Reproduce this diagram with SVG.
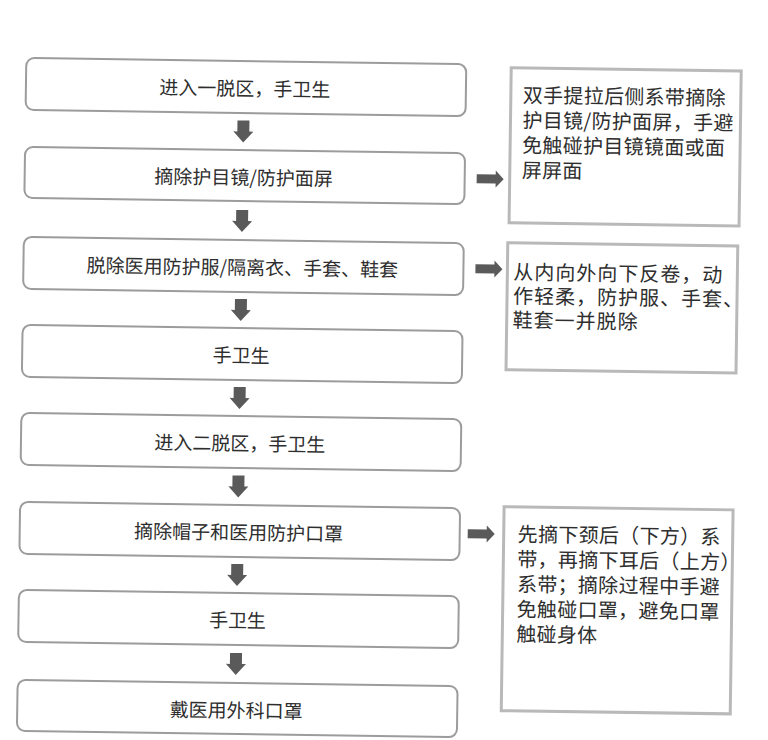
<svg xmlns="http://www.w3.org/2000/svg" width="768" height="740" viewBox="0 0 768 740">
<defs>
<style>
.box{fill:#ffffff;stroke:#9c9c9c;stroke-width:2}
.note{fill:#ffffff;stroke:#b9b9b9;stroke-width:3}
.t{font-family:"Noto Sans CJK SC","Noto Sans",sans-serif;font-size:19px;fill:#2e2e2e;text-anchor:middle;dominant-baseline:central}
.n{font-family:"Noto Sans CJK SC","Noto Sans",sans-serif;font-size:20px;fill:#2e2e2e;dominant-baseline:central;letter-spacing:0.3px}
.da{fill:#5a5a5a}
</style>
<path id="down" d="M-6,-11 H6 V0 H10 L0,11 L-10,0 H-6 Z"/>
<path id="right" d="M0,-4.5 H19 V-8.5 L27,0 L19,8.5 V4.5 H0 Z"/>
</defs>
<rect width="768" height="740" fill="#ffffff"/>
<g transform="rotate(0.8 384 370)">
<g id="step1"><rect class="box" x="22" y="63" width="440" height="52" rx="8"/><text class="t" x="241" y="89">进入一脱区，手卫生</text></g>
<g id="step2"><rect class="box" x="22" y="152" width="440" height="51" rx="8"/><text class="t" x="241" y="178">摘除护目镜/防护面屏</text></g>
<g id="step3"><rect class="box" x="22" y="242" width="440" height="52" rx="8"/><text class="t" x="241" y="268">脱除医用防护服/隔离衣、手套、鞋套</text></g>
<g id="step4"><rect class="box" x="22" y="330" width="440" height="52" rx="8"/><text class="t" x="241" y="356">手卫生</text></g>
<g id="step5"><rect class="box" x="22" y="418" width="440" height="52" rx="8"/><text class="t" x="241" y="444">进入二脱区，手卫生</text></g>
<g id="step6"><rect class="box" x="22" y="507" width="440" height="52" rx="8"/><text class="t" x="241" y="533">摘除帽子和医用防护口罩</text></g>
<g id="step7"><rect class="box" x="22" y="595" width="440" height="52" rx="8"/><text class="t" x="241" y="621">手卫生</text></g>
<g id="step8"><rect class="box" x="22" y="685" width="440" height="51" rx="8"/><text class="t" x="241" y="711">戴医用外科口罩</text></g>
<g id="note1"><rect class="note" x="507" y="66" width="230" height="155"/>
<text class="n" x="519" y="92">双手提拉后侧系带摘除</text>
<text class="n" x="519" y="117">护目镜/防护面屏，手避</text>
<text class="n" x="519" y="142">免触碰护目镜镜面或面</text>
<text class="n" x="519" y="167">屏屏面</text></g>
<g id="note2"><rect class="note" x="506" y="241" width="230" height="127"/>
<text class="n" x="512" y="269" style="letter-spacing:1px">从内向外向下反卷，动</text>
<text class="n" x="512" y="293" style="letter-spacing:1px">作轻柔，防护服、手套、</text>
<text class="n" x="512" y="317" style="letter-spacing:1px">鞋套一并脱除</text></g>
<g id="note3"><rect class="note" x="506" y="505" width="229" height="204"/>
<text class="n" x="520" y="531">先摘下颈后（下方）系</text>
<text class="n" x="520" y="556">带，再摘下耳后（上方）</text>
<text class="n" x="520" y="581">系带；摘除过程中手避</text>
<text class="n" x="520" y="606">免触碰口罩，避免口罩</text>
<text class="n" x="520" y="631">触碰身体</text></g>
<g id="connectors" class="da">
<use href="#down" x="240" y="133.5"/>
<use href="#down" x="240" y="223"/>
<use href="#down" x="240" y="312"/>
<use href="#down" x="240" y="400"/>
<use href="#down" x="240" y="488.5"/>
<use href="#down" x="240" y="577"/>
<use href="#down" x="240" y="666"/>
<use href="#right" x="474" y="177.5"/>
<use href="#right" x="474" y="267.5"/>
<use href="#right" x="470" y="532.5"/>
</g>
</g>
</svg>
